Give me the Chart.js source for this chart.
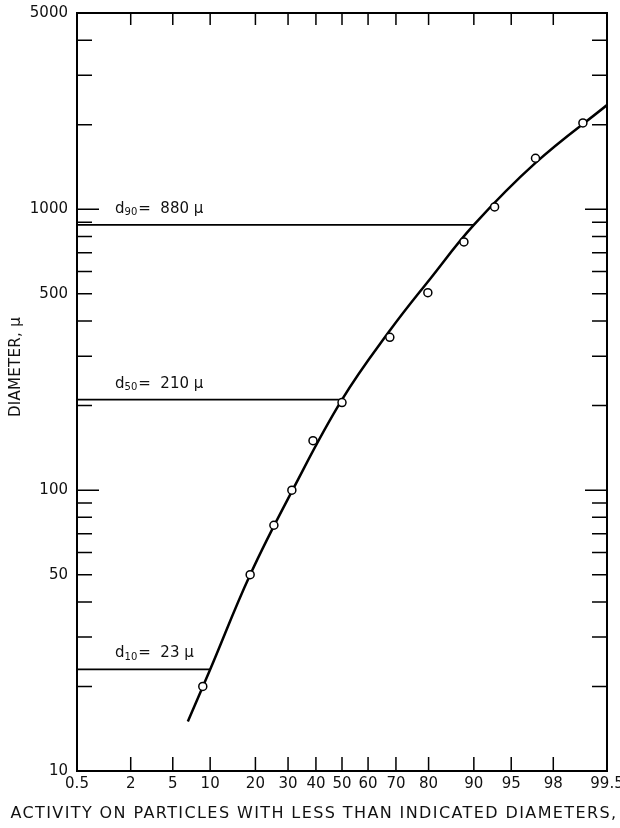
<!DOCTYPE html>
<html>
<head>
<meta charset="utf-8">
<script src="https://cdn.jsdelivr.net/npm/chart.js@4.4.1/dist/chart.umd.min.js"></script>
<style>
  html, body { margin: 0; padding: 0; background: #fff; }
</style>
</head>
<body>
<canvas id="sizeChart" width="620" height="828"></canvas>
<script>
// measured samples: cumulative activity (%) vs particle diameter (microns)
const samplePct = [8.8, 18.6, 25.4, 31.3, 38.9, 50.0, 67.9, 79.8, 88.2, 93.1, 97.0, 99.04];
const sampleDiam = [20, 50, 75, 100, 150, 205, 350, 505, 765, 1020, 1520, 2030];

// smoothed distribution curve
const fitPct = [6.7, 10, 18.6, 31.3, 50, 67.9, 80.4, 90, 97.0, 99.5];
const fitDiam = [15, 23, 50, 99, 210, 370, 565, 880, 1463, 2350];

// d10 / d50 / d90 read-offs
const dNames = ['10', '50', '90'];
const dPct = [10, 50, 90];
const dDiam = [23, 210, 880];

const xTickPct = [0.5, 2, 5, 10, 20, 30, 40, 50, 60, 70, 80, 90, 95, 98, 99.5];
const xTickLabels = ['0.5', '2', '5', '10', '20', '30', '40', '50', '60', '70', '80', '90', '95', '98', '99.5'];
const yTicks = [10, 20, 30, 40, 50, 60, 70, 80, 90, 100, 200, 300, 400, 500, 600, 700, 800, 900, 1000, 2000, 3000, 4000, 5000];
const yTickLabels = [10, 50, 100, 500, 1000, 5000];
const yMajor = [100, 1000];

const FONT = '"DejaVu Sans", sans-serif';
const INK = '#111';

// inverse normal CDF (Acklam), input in percent -> probability axis position
function probit(pct) {
  const p = pct / 100;
  const a = [-3.969683028665376e+01, 2.209460984245205e+02, -2.759285104469687e+02, 1.383577518672690e+02, -3.066479806614716e+01, 2.506628277459239e+00];
  const b = [-5.447609879822406e+01, 1.615858368580409e+02, -1.556989798598866e+02, 6.680131188771972e+01, -1.328068155288572e+01];
  const c = [-7.784894002430293e-03, -3.223964580411365e-01, -2.400758277161838e+00, -2.549732539343734e+00, 4.374664141464968e+00, 2.938163982698783e+00];
  const d = [7.784695709041462e-03, 3.224671290700398e-01, 2.445134137142996e+00, 3.754408661907416e+00];
  const tail = q => (((((c[0] * q + c[1]) * q + c[2]) * q + c[3]) * q + c[4]) * q + c[5]) /
    ((((d[0] * q + d[1]) * q + d[2]) * q + d[3]) * q + 1);
  if (p < 0.02425) return tail(Math.sqrt(-2 * Math.log(p)));
  if (p > 1 - 0.02425) return -tail(Math.sqrt(-2 * Math.log(1 - p)));
  const q = p - 0.5, r = q * q;
  return (((((a[0] * r + a[1]) * r + a[2]) * r + a[3]) * r + a[4]) * r + a[5]) * q /
    (((((b[0] * r + b[1]) * r + b[2]) * r + b[3]) * r + b[4]) * r + 1);
}

const toPoints = (pcts, diams) => pcts.map((p, i) => ({ x: probit(p), y: diams[i] }));

// box with inward tick marks, read-off labels and axis titles
const frame = {
  id: 'frame',
  afterDraw(chart) {
    const { ctx, chartArea: a, scales: { x, y } } = chart;
    ctx.save();
    ctx.strokeStyle = '#000';
    ctx.lineWidth = 2;
    ctx.strokeRect(a.left, a.top, a.right - a.left, a.bottom - a.top);

    ctx.lineWidth = 1.5;
    ctx.beginPath();
    x.ticks.forEach(t => {
      const px = x.getPixelForValue(t.value);
      ctx.moveTo(px, a.bottom); ctx.lineTo(px, a.bottom - 14);
      ctx.moveTo(px, a.top); ctx.lineTo(px, a.top + 12);
    });
    y.ticks.forEach(t => {
      const py = y.getPixelForValue(t.value);
      const len = yMajor.includes(t.value) ? 22 : 15;
      ctx.moveTo(a.left, py); ctx.lineTo(a.left + len, py);
      ctx.moveTo(a.right, py); ctx.lineTo(a.right - len, py);
    });
    ctx.stroke();

    ctx.fillStyle = INK;
    ctx.textBaseline = 'middle';
    ctx.textAlign = 'left';
    dNames.forEach((name, i) => {
      const py = y.getPixelForValue(dDiam[i]) - 16;
      let px = a.left + 38;
      ctx.font = '15px ' + FONT;
      ctx.fillText('d', px, py);
      px += ctx.measureText('d').width;
      ctx.font = '10px ' + FONT;
      ctx.fillText(name, px, py + 4);
      px += ctx.measureText(name).width + 1;
      ctx.font = '15px ' + FONT;
      ctx.fillText('=  ' + dDiam[i] + ' \u03bc', px, py);
    });

    ctx.textAlign = 'center';
    ctx.font = '16px ' + FONT;
    ctx.letterSpacing = '1.4px';
    ctx.fillText('ACTIVITY ON PARTICLES WITH LESS THAN INDICATED DIAMETERS,', chart.width / 2 + 4, 814);

    ctx.translate(16, 367);
    ctx.rotate(-Math.PI / 2);
    ctx.font = '15px ' + FONT;
    ctx.letterSpacing = '0.3px';
    ctx.fillText('DIAMETER, \u03bc', 0, 0);
    ctx.restore();
  }
};

const lineStyle = { borderColor: '#000', pointRadius: 0, fill: false };

new Chart(document.getElementById('sizeChart'), {
  type: 'line',
  data: {
    datasets: [
      {
        data: toPoints(samplePct, sampleDiam),
        showLine: false,
        pointRadius: 4,
        pointBackgroundColor: '#fff',
        pointBorderColor: '#000',
        pointBorderWidth: 1.5
      },
      {
        ...lineStyle,
        data: toPoints(fitPct, fitDiam),
        borderWidth: 2.5,
        tension: 0.4
      },
      ...dPct.map((p, i) => ({
        ...lineStyle,
        data: [{ x: probit(xTickPct[0]), y: dDiam[i] }, { x: probit(p), y: dDiam[i] }],
        borderWidth: 1.8
      }))
    ]
  },
  options: {
    responsive: false,
    devicePixelRatio: 1,
    animation: false,
    layout: { padding: { top: 13, right: 13, left: 0, bottom: 0 } },
    plugins: { legend: { display: false }, tooltip: { enabled: false } },
    scales: {
      x: {
        type: 'linear',
        min: probit(xTickPct[0]),
        max: probit(xTickPct[xTickPct.length - 1]),
        grid: { display: false, drawTicks: false },
        border: { display: false },
        afterBuildTicks: s => { s.ticks = xTickPct.map(p => ({ value: probit(p) })); },
        afterFit: s => { s.height = 57; s.paddingLeft = 0; s.paddingRight = 0; },
        ticks: {
          autoSkip: false,
          maxRotation: 0,
          padding: 4,
          color: INK,
          font: { family: FONT, size: 15 },
          callback: (v, i) => xTickLabels[i]
        }
      },
      y: {
        type: 'logarithmic',
        min: 10,
        max: 5000,
        grid: { display: false, drawTicks: false },
        border: { display: false },
        afterBuildTicks: s => { s.ticks = yTicks.map(v => ({ value: v })); },
        afterFit: s => { s.width = 77; s.paddingTop = 0; s.paddingBottom = 0; },
        ticks: {
          autoSkip: false,
          padding: 9,
          color: INK,
          font: { family: FONT, size: 15 },
          callback: v => yTickLabels.includes(v) ? String(v) : ''
        }
      }
    }
  },
  plugins: [frame]
});
</script>
</body>
</html>
